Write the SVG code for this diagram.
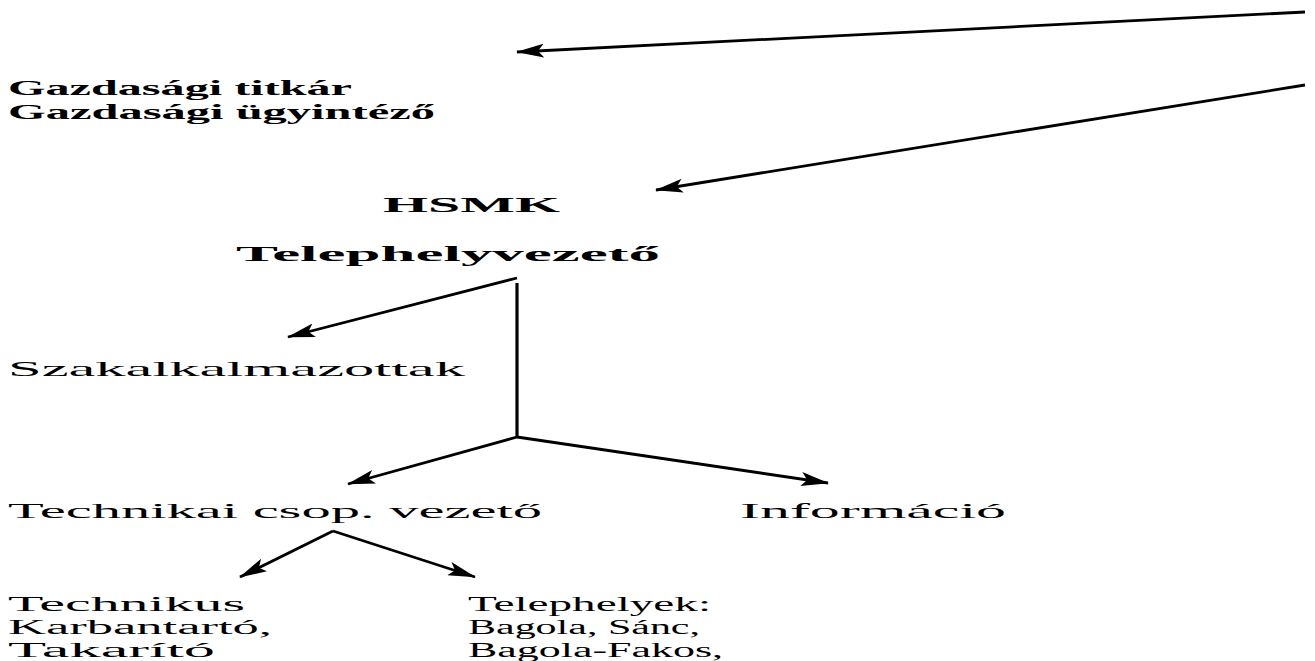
<svg xmlns="http://www.w3.org/2000/svg" width="1315" height="661" viewBox="0 0 1315 661">
<style>
text{font-family:"Liberation Serif","Times New Roman",serif;fill:#000}
.b{font-weight:bold;font-size:22px}
.r{font-size:22px}
.s{font-size:20px}
.c{stroke:#000;stroke-width:2.8;fill:none}
</style>
<defs>
<marker id="a" viewBox="0 0 28 14" refX="27" refY="7" markerWidth="28" markerHeight="14" markerUnits="userSpaceOnUse" orient="auto">
<path d="M0,0 L28,7 L0,14 L6,7 Z" fill="#000"/>
</marker>
</defs>
<rect width="1315" height="661" fill="#fff"/>
<g id="connectors">
<line class="c" x1="1305" y1="12" x2="517" y2="52" marker-end="url(#a)"/>
<line class="c" x1="1305" y1="85" x2="656" y2="190" marker-end="url(#a)"/>
<line class="c" x1="517" y1="278" x2="288" y2="337" marker-end="url(#a)"/>
<line class="c" style="stroke-width:3.2" x1="517" y1="283" x2="517" y2="437"/>
<line class="c" x1="517" y1="437" x2="348" y2="484" marker-end="url(#a)"/>
<line class="c" x1="517" y1="437" x2="828" y2="483" marker-end="url(#a)"/>
<line class="c" x1="333" y1="531" x2="240" y2="577" marker-end="url(#a)"/>
<line class="c" x1="333" y1="531" x2="475" y2="577" marker-end="url(#a)"/>
</g>
<g id="gazdasagi">
<text class="b" x="8" y="95" textLength="344" lengthAdjust="spacingAndGlyphs">Gazdasági titkár</text>
<text class="b" x="8" y="119" textLength="427" lengthAdjust="spacingAndGlyphs">Gazdasági ügyintéző</text>
</g>
<g id="hsmk">
<text class="b" x="383" y="212" textLength="177" lengthAdjust="spacingAndGlyphs">HSMK</text>
</g>
<g id="telephelyvezeto">
<text class="b" x="236" y="261" textLength="424" lengthAdjust="spacingAndGlyphs">Telephelyvezető</text>
</g>
<g id="szakalkalmazottak">
<text class="r" x="8" y="376" textLength="457" lengthAdjust="spacingAndGlyphs">Szakalkalmazottak</text>
</g>
<g id="technikai">
<text class="r" x="8" y="518" textLength="534" lengthAdjust="spacingAndGlyphs">Technikai csop. vezető</text>
</g>
<g id="informacio">
<text class="r" x="740" y="518" textLength="266" lengthAdjust="spacingAndGlyphs">Információ</text>
</g>
<g id="technikus">
<text class="s" x="8" y="611" textLength="237" lengthAdjust="spacingAndGlyphs">Technikus</text>
<text class="s" x="8" y="634" textLength="264" lengthAdjust="spacingAndGlyphs">Karbantartó,</text>
<text class="s" x="8" y="657" textLength="207" lengthAdjust="spacingAndGlyphs">Takarító</text>
</g>
<g id="telephelyek">
<text class="s" x="468" y="611" textLength="243" lengthAdjust="spacingAndGlyphs">Telephelyek:</text>
<text class="s" x="468" y="634" textLength="232" lengthAdjust="spacingAndGlyphs">Bagola, Sánc,</text>
<text class="s" x="468" y="657" textLength="255" lengthAdjust="spacingAndGlyphs">Bagola-Fakos,</text>
</g>
</svg>
